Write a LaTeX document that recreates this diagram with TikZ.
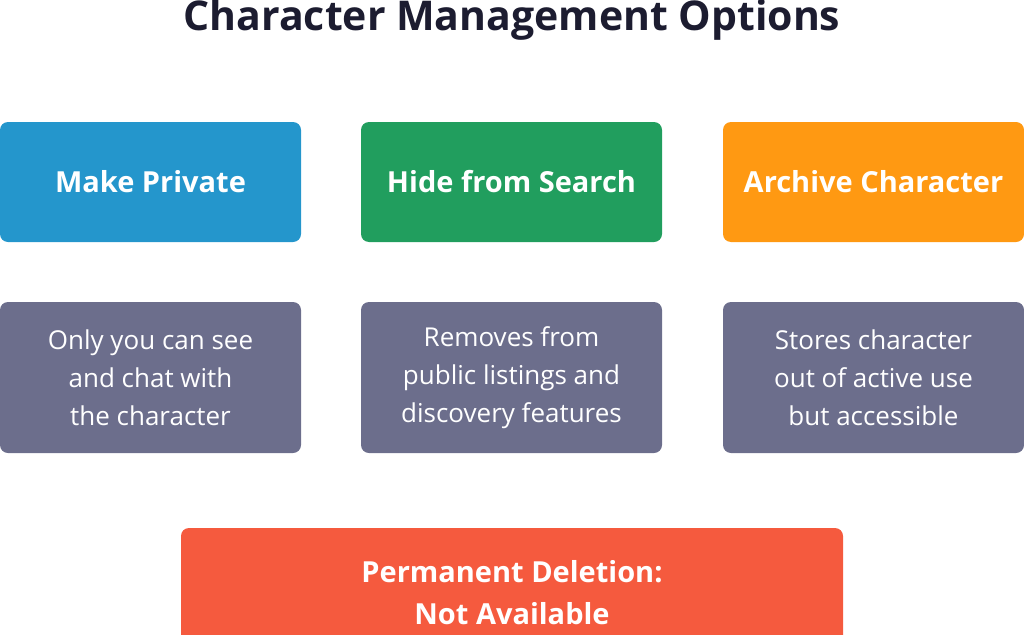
\documentclass[tikz,border=0pt]{standalone}
\usepackage{fontspec}
\setmainfont{Open Sans}
\usetikzlibrary{positioning}
\definecolor{privblue}{RGB}{36,150,204}
\definecolor{hidegreen}{RGB}{33,158,94}
\definecolor{archorange}{RGB}{255,153,18}
\definecolor{descgray}{RGB}{108,110,140}
\definecolor{delred}{RGB}{245,90,62}
\definecolor{titledark}{RGB}{28,28,48}
\tikzset{
  opt/.style={rounded corners=8pt,minimum width=301pt,minimum height=120pt,text=white,
    font=\fontsize{29}{36}\selectfont\bfseries,inner sep=0pt},
  desc/.style={rounded corners=8pt,fill=descgray,minimum width=301pt,minimum height=151pt,
    text=white,align=center,font=\fontsize{26}{38}\selectfont,inner sep=0pt},
}
\begin{document}
\begin{tikzpicture}[x=1pt,y=-1pt]
\useasboundingbox (0,0) rectangle (1024,634);
\clip (0,0) rectangle (1024,634);
\node[font=\fontsize{41}{48}\selectfont\bfseries,text=titledark] (title) at (512,20) {Character Management Options};
% options
\node[opt,fill=privblue] (priv) at (150.5,182) {Make Private};
\node[opt,fill=hidegreen] (hide) at (511.5,182) {Hide from Search};
\node[opt,fill=archorange] (arch) at (873.5,182) {Archive Character};
% descriptions
\node[desc] (privd) at (150.5,377.5) {Only you can see\\and chat with\\the character};
\node[desc] (hided) at (511.5,377.5) {Removes from\\public listings and\\discovery features};
\node[desc] (archd) at (873.5,377.5) {Stores character\\out of active use\\but accessible};
% deletion
\node[rounded corners=8pt,fill=delred,minimum width=662pt,minimum height=140pt,inner sep=0pt] (del) at (512,598) {};
\node[text=white,align=center,font=\fontsize{29}{42}\selectfont\bfseries] (delt) at (512,593) {Permanent Deletion:\\Not Available};
\end{tikzpicture}
\end{document}
